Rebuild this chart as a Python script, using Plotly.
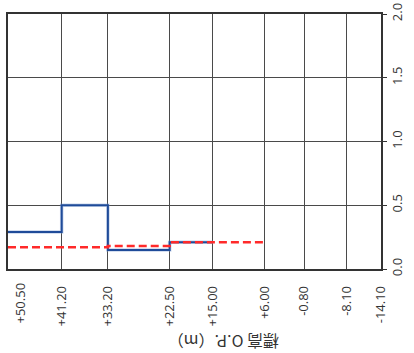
import plotly.graph_objects as go

# Data
elev_ticks = [50.5, 41.2, 33.2, 22.5, 15.0, 6.0, -0.8, -8.1, -14.1]
elev_labels = ["+50.50", "+41.20", "+33.20", "+22.50", "+15.00", "+6.00", "-0.80", "-8.10", "-14.10"]
blue_x = [50.5, 41.2, 33.2, 22.5, 15.0]
blue_y = [0.29, 0.50, 0.15, 0.21, 0.21]
red_x = [50.5, 33.2, 22.5, 6.0]
red_y = [0.17, 0.18, 0.21, 0.21]
y_ticks = [0.0, 0.5, 1.0, 1.5, 2.0]
y_labels = ["0.0", "0.5", "1.0", "1.5", "2.0"]
axis_title = "標高 O.P.（m）"

fig = go.Figure()
fig.add_trace(go.Scatter(x=blue_x, y=blue_y, mode="lines", line_shape="hv",
                         line=dict(color="rgba(130,160,210,0.45)", width=3.5),
                         hoverinfo="skip", showlegend=False))
fig.add_trace(go.Scatter(x=blue_x, y=blue_y, mode="lines", line_shape="hv",
                         line=dict(color="#1f4b99", width=2), showlegend=False))
fig.add_trace(go.Scatter(x=red_x, y=red_y, mode="lines", line_shape="hv",
                         line=dict(color="#ff2a2a", width=2.5, dash="8px,4px"),
                         showlegend=False))

font_family = "Open Sans, DejaVu Sans, sans-serif"
# first label drawn separately (shifted inward like the reference)
shown_labels = [""] + elev_labels[1:]
fig.update_layout(
    width=414, height=353,
    margin=dict(l=8, r=33, t=14, b=84),
    paper_bgcolor="white", plot_bgcolor="white",
    font=dict(family=font_family, size=13, color="#333"),
    xaxis=dict(range=[50.5, -14.1], tickmode="array", tickvals=elev_ticks,
               ticktext=shown_labels, tickangle=-90, showgrid=True, automargin=False,
               ticklabeloverflow="allow",
               gridcolor="#4a4a4a", gridwidth=1.2, zeroline=False,
               showline=True, linecolor="#333", linewidth=1.5, mirror=True,
               ticks="outside", ticklen=10, tickcolor="rgba(0,0,0,0)",
               tickfont=dict(size=13, color="#333")),
    yaxis=dict(range=[0, 2.0], side="right", tickmode="array", tickvals=y_ticks,
               ticktext=y_labels, tickangle=-90, showgrid=True, automargin=False,
               ticklabeloverflow="allow",
               gridcolor="#4a4a4a", gridwidth=1.2, zeroline=False,
               showline=True, linecolor="#333", linewidth=1.5, mirror=True,
               ticks="outside", ticklen=4, tickcolor="#333",
               tickfont=dict(size=13, color="#333")),
)
fig.add_annotation(text=elev_labels[0], textangle=-90, showarrow=False,
                   x=elev_ticks[0], xref="x", yref="paper", y=0,
                   xanchor="center", yanchor="top", xshift=11, yshift=-12,
                   font=dict(size=13, color="#333"))
fig.add_annotation(text=axis_title, textangle=180, showarrow=False,
                   xref="paper", yref="paper", x=(224 - 8) / 373, y=-(342 - 269) / 255,
                   xanchor="center", yanchor="middle",
                   font=dict(family="Noto Sans CJK JP, " + font_family, size=16, color="#333"))
fig.write_html("out.html", config={"displayModeBar": False},
               post_script="document.body.style.margin='0';document.body.style.overflow='hidden';")
